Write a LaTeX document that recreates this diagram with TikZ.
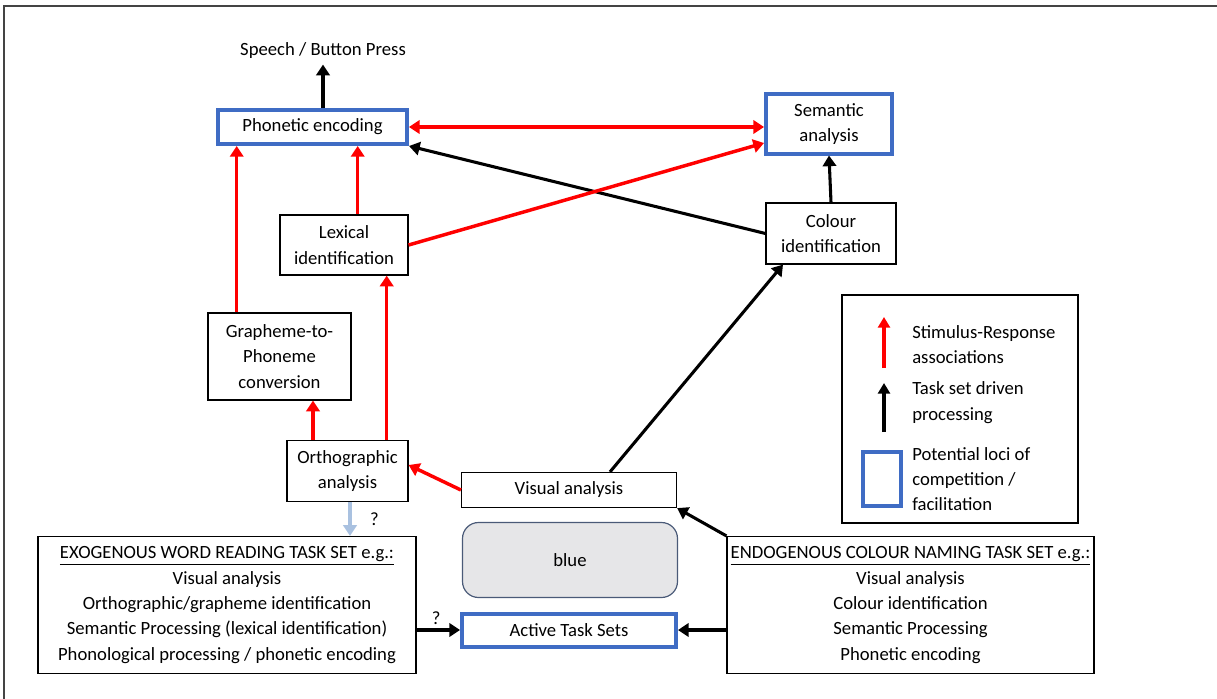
\documentclass[tikz,border=0pt]{standalone}
\usepackage{fontspec}
\setmainfont{Carlito}
\usetikzlibrary{arrows.meta,calc}
\newcommand\pxu{0.75pt}
\definecolor{locblue}{HTML}{3F6CC4}
\definecolor{qblue}{HTML}{A9C1E0}
\definecolor{boxgrey}{HTML}{E6E6E8}
\definecolor{boxedge}{HTML}{4A5A78}
\definecolor{frame}{HTML}{444444}
\tikzset{
  txt/.style={font=\fontsize{14}{19}\selectfont, align=center, inner sep=0pt},
  plain/.style={txt, draw=black, line width=0.9pt},
  locus/.style={txt, draw=locblue, line width=3pt},
  sr/.style={draw=red, line width=2.6pt, -{Triangle[length=8pt,width=10pt]}},
  sr2/.style={draw=red, line width=2.6pt, {Triangle[length=8pt,width=10pt]}-{Triangle[length=8pt,width=10pt]}},
  ts/.style={draw=black, line width=2.3pt, -{Triangle[length=8pt,width=10pt]}},
  qa/.style={draw=qblue, line width=2.3pt, -{Triangle[length=8pt,width=10pt]}},
}
\begin{document}
\begin{tikzpicture}[x=0.75pt,y=-0.75pt]
\useasboundingbox (0,0) rectangle (1217,699);
\draw[frame, line width=1.2pt] (4,6) rectangle (1225,710);

% nodes
\node[txt, inner sep=4pt] (sp) at (323,51) {Speech / Button Press};
\node[locus, minimum width=189*\pxu, minimum height=34*\pxu] (pe) at (312.5,127) {Phonetic encoding};
\node[locus, minimum width=126*\pxu, minimum height=59*\pxu] (sa) at (829,124) {Semantic\\analysis};
\node[plain, minimum width=130*\pxu, minimum height=61*\pxu] (ci) at (831,233.5) {Colour\\identification};
\node[plain, minimum width=128*\pxu, minimum height=60*\pxu] (li) at (344,245) {Lexical\\identification};
\node[plain, minimum width=143*\pxu, minimum height=87*\pxu] (gp) at (279.5,356.5) {Grapheme-to-\\Phoneme\\conversion};
\node[plain, minimum width=121*\pxu, minimum height=61*\pxu] (oa) at (347.5,471) {Orthographic\\analysis};
\node[plain, minimum width=215*\pxu, minimum height=35*\pxu] (va) at (569,490) {Visual analysis};
\node[txt, draw=boxedge, fill=boxgrey, line width=0.9pt, rounded corners=12pt, minimum width=215*\pxu, minimum height=75*\pxu] (bl) at (570,560) {blue};
\node[locus, minimum width=214*\pxu, minimum height=33*\pxu] (ats) at (569,630) {Active Task Sets};
\node[plain, minimum width=378*\pxu, minimum height=137*\pxu] (exo) at (227,605) {\underline{EXOGENOUS WORD READING TASK SET e.g.:}\\Visual analysis\\Orthographic/grapheme identification\\Semantic Processing (lexical identification)\\Phonological processing / phonetic encoding};
\node[plain, minimum width=367*\pxu, minimum height=137*\pxu] (endo) at (910.5,605) {\underline{ENDOGENOUS COLOUR NAMING TASK SET e.g.:}\\Visual analysis\\Colour identification\\Semantic Processing\\Phonetic encoding};

% legend
\node[plain, minimum width=236*\pxu, minimum height=228*\pxu] (leg) at (960,409) {};
\coordinate (l1a) at (884,368); \coordinate (l1b) at (884,317);
\coordinate (l2a) at (884,432); \coordinate (l2b) at (884,383);
\draw[draw=red, line width=2.3pt, -{Triangle[length=8pt,width=9pt]}] (l1a) -- (l1b);
\draw[draw=black, line width=2.3pt, -{Triangle[length=8pt,width=9pt]}] (l2a) -- (l2b);
\node[txt, anchor=west, align=left] (lt1) at (912,344.5) {Stimulus-Response\\associations};
\node[txt, anchor=west, align=left] (lt2) at (912,402.5) {Task set driven\\processing};
\node[draw=locblue, line width=3pt, minimum width=38*\pxu, minimum height=54*\pxu, inner sep=0pt] (lsq) at (881.7,479) {};
\node[txt, anchor=west, align=left] (lt3) at (912,479) {Potential loci of\\competition /\\facilitation};

% connectors
\draw[ts] (sp.south |- pe.north) -- (sp.south);
\draw[sr2] (pe.east) -- (sa.west |- pe.east);
\draw[ts] (ci.west) -- (pe.south east);
\draw[sr] (li.east) -- ([yshift=-19*\pxu]sa.west);
\draw[ts] (ci.north) -- (sa.south);
\draw[sr] ([xshift=13.7*\pxu]li.north) -- ([xshift=13.7*\pxu]li.north |- pe.south);
\draw[sr] ([xshift=-42.8*\pxu]gp.north) -- ([xshift=-42.8*\pxu]gp.north |- pe.south);
\draw[sr] ([xshift=39.2*\pxu]oa.north) -- ([xshift=39.2*\pxu]oa.north |- li.south);
\draw[sr] ([xshift=-34.5*\pxu]oa.north) -- ([xshift=-34.5*\pxu]oa.north |- gp.south);
\draw[sr] (va.west) -- ([yshift=6*\pxu]oa.east);
\draw[ts] ([xshift=41*\pxu]va.north) -- ([xshift=-48*\pxu]ci.south);
\draw[ts] (endo.north west) -- (va.south east);
\draw[ts] (ats.east -| endo.west) -- (ats.east);
\draw[ts] (exo.east |- ats.west) -- node[txt, above, pos=0.45, yshift=3pt] {?} (ats.west);
\draw[qa] ([xshift=2.5*\pxu]oa.south) -- ([xshift=2.5*\pxu]oa.south |- exo.north) node[txt, midway, right=14pt] {?};
\end{tikzpicture}
\end{document}
